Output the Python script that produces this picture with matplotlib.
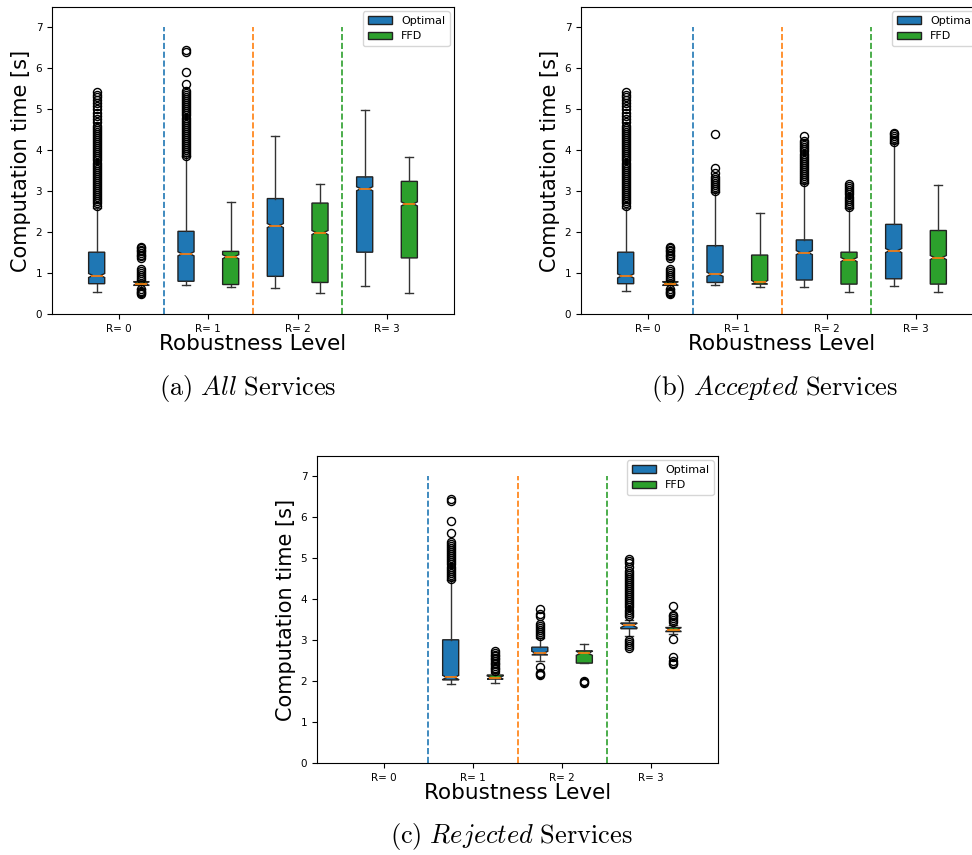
import matplotlib
matplotlib.use("Agg")
import matplotlib.pyplot as plt
from matplotlib.patches import Patch

plt.rcParams['mathtext.fontset'] = 'cm'

levels = ["R= 0", "R= 1", "R= 2", "R= 3"]
series_names = ["Optimal", "FFD"]
series_colors = ["#1f77b4", "#2ca02c"]
divider_colors = ["#1f77b4", "#ff7f0e", "#2ca02c"]
captions = [r"$\mathrm{(a)}\ \mathit{All}\ \mathrm{Services}$",
            r"$\mathrm{(b)}\ \mathit{Accepted}\ \mathrm{Services}$",
            r"$\mathrm{(c)}\ \mathit{Rejected}\ \mathrm{Services}$"]

# five-number summaries per robustness level: [whisker low, q1, median, q3, whisker high]
all_optimal = [[0.54, 0.74, 0.94, 1.51, 2.60],
               [0.72, 0.80, 1.47, 2.02, 3.85],
               [0.64, 0.92, 2.16, 2.82, 4.34],
               [0.68, 1.51, 3.06, 3.35, 4.98]]
all_ffd = [[0.62, 0.70, 0.74, 0.79, 0.83],
           [0.66, 0.72, 1.40, 1.53, 2.73],
           [0.52, 0.77, 1.99, 2.71, 3.17],
           [0.52, 1.37, 2.69, 3.24, 3.84]]
all_optimal_fliers = [
    [2.65, 2.7, 2.75, 2.8, 2.85, 2.9, 2.95, 3.0, 3.05, 3.1, 3.15, 3.2, 3.25, 3.3, 3.35,
     3.4, 3.45, 3.5, 3.55, 3.6, 3.65, 3.7, 3.75, 3.8, 3.85, 3.9, 3.95, 4.0, 4.05, 4.1,
     4.15, 4.2, 4.25, 4.3, 4.35, 4.4, 4.45, 4.5, 4.55, 4.6, 4.68, 4.76, 4.84, 4.92,
     5.0, 5.08, 5.15, 5.22, 5.3, 5.36, 5.42],
    [3.85, 3.9, 3.95, 4.0, 4.05, 4.1, 4.15, 4.2, 4.25, 4.3, 4.35, 4.4, 4.45, 4.5, 4.55,
     4.6, 4.65, 4.7, 4.75, 4.8, 4.85, 4.9, 4.95, 5.0, 5.05, 5.1, 5.15, 5.2, 5.25, 5.3,
     5.35, 5.4, 5.45, 5.62, 5.9, 6.4, 6.45],
    [], []]
all_ffd_fliers = [
    [0.48, 0.51, 0.54, 0.57, 0.6, 0.86, 0.9, 0.95, 1.0, 1.05, 1.1, 1.37, 1.41, 1.45,
     1.49, 1.53, 1.57, 1.61, 1.63],
    [], [], []]

acc_optimal = [[0.55, 0.74, 0.93, 1.51, 2.60],
               [0.72, 0.77, 0.97, 1.67, 2.97],
               [0.65, 0.83, 1.50, 1.81, 3.19],
               [0.68, 0.86, 1.55, 2.19, 4.17]]
acc_ffd = [[0.62, 0.70, 0.74, 0.79, 0.83],
           [0.67, 0.73, 0.77, 1.44, 2.46],
           [0.53, 0.73, 1.33, 1.51, 2.58],
           [0.53, 0.73, 1.38, 2.04, 3.14]]
acc_optimal_fliers = [
    [2.65, 2.7, 2.75, 2.8, 2.85, 2.9, 2.95, 3.0, 3.05, 3.1, 3.15, 3.2, 3.25, 3.3, 3.35,
     3.4, 3.45, 3.5, 3.55, 3.6, 3.65, 3.7, 3.75, 3.8, 3.85, 3.9, 3.95, 4.0, 4.05, 4.1,
     4.15, 4.2, 4.25, 4.3, 4.35, 4.4, 4.45, 4.5, 4.55, 4.6, 4.68, 4.76, 4.84, 4.92,
     5.0, 5.08, 5.15, 5.22, 5.3, 5.36, 5.42],
    [3.0, 3.05, 3.1, 3.15, 3.2, 3.25, 3.3, 3.35, 3.45, 3.57, 4.4],
    [3.22, 3.27, 3.32, 3.37, 3.42, 3.47, 3.52, 3.57, 3.62, 3.67, 3.72, 3.77, 3.82, 3.87,
     3.92, 3.97, 4.02, 4.07, 4.12, 4.17, 4.22, 4.34],
    [4.2, 4.25, 4.3, 4.35, 4.4, 4.43]]
acc_ffd_fliers = [
    [0.48, 0.51, 0.54, 0.57, 0.6, 0.86, 0.9, 0.95, 1.0, 1.05, 1.1, 1.37, 1.41, 1.45,
     1.49, 1.53, 1.57, 1.61, 1.63],
    [],
    [2.62, 2.67, 2.72, 2.77, 2.82, 2.87, 2.92, 2.97, 3.02, 3.07, 3.12, 3.17],
    []]

rej_optimal = [None,
               [1.93, 2.03, 2.09, 3.01, 4.48],
               [2.50, 2.64, 2.68, 2.83, 3.05],
               [3.11, 3.28, 3.36, 3.42, 3.50]]
rej_ffd = [None,
           [1.95, 2.05, 2.08, 2.15, 2.21],
           [2.44, 2.44, 2.68, 2.74, 2.90],
           [3.16, 3.21, 3.26, 3.31, 3.38]]
rej_optimal_fliers = [
    [],
    [4.5, 4.55, 4.6, 4.65, 4.7, 4.75, 4.8, 4.85, 4.9, 4.95, 5.0, 5.05, 5.1, 5.15, 5.2,
     5.25, 5.3, 5.35, 5.4, 5.62, 5.9, 6.4, 6.45],
    [2.15, 2.18, 2.2, 2.35, 3.1, 3.15, 3.2, 3.25, 3.3, 3.35, 3.4, 3.58, 3.65, 3.77],
    [2.82, 2.86, 2.9, 2.95, 3.0, 3.6, 3.65, 3.7, 3.75, 3.8, 3.85, 3.9, 3.95, 4.0, 4.05,
     4.1, 4.15, 4.2, 4.25, 4.3, 4.35, 4.4, 4.45, 4.5, 4.55, 4.6, 4.65, 4.7, 4.8, 4.88,
     4.93, 4.98]]
rej_ffd_fliers = [
    [],
    [2.25, 2.29, 2.33, 2.37, 2.41, 2.45, 2.49, 2.53, 2.57, 2.61, 2.65, 2.69, 2.73],
    [1.95, 1.97, 2.0],
    [2.42, 2.45, 2.5, 2.6, 3.03, 3.45, 3.5, 3.55, 3.6, 3.62, 3.84]]

panels = [(all_optimal, all_ffd, all_optimal_fliers, all_ffd_fliers),
          (acc_optimal, acc_ffd, acc_optimal_fliers, acc_ffd_fliers),
          (rej_optimal, rej_ffd, rej_optimal_fliers, rej_ffd_fliers)]

W, H = 972, 855
fig = plt.figure(figsize=(W / 100, H / 100), dpi=100)
axes_rects = [[52 / W, 1 - 314 / H, 402 / W, 307 / H],
              [581 / W, 1 - 314 / H, 402 / W, 307 / H],
              [317 / W, 1 - 763 / H, 401 / W, 307 / H]]
caption_pos = [(248 / W, 1 - 388 / H), (775 / W, 1 - 388 / H), (511 / W, 1 - 836 / H)]

BOX_W = 0.18
OFFSET = 0.25


def draw_panel(ax, opt, ffd, opt_fl, ffd_fl):
    for stats_list, fl_list, col, off in [(opt, opt_fl, series_colors[0], -OFFSET),
                                          (ffd, ffd_fl, series_colors[1], OFFSET)]:
        stats, pos = [], []
        for i, (s, f) in enumerate(zip(stats_list, fl_list)):
            if s is None:
                continue
            lo, q1, med, q3, hi = s
            d = 0.05
            stats.append(dict(whislo=lo, q1=q1, med=med, q3=q3, whishi=hi, fliers=f,
                              cilo=max(q1, med - d), cihi=min(q3, med + d)))
            pos.append(i + off)
        res = ax.bxp(stats, positions=pos, widths=BOX_W, patch_artist=True,
                     shownotches=True, manage_ticks=False,
                     boxprops=dict(facecolor=col, edgecolor='#222222', linewidth=1.0),
                     medianprops=dict(color='#ff7f0e', linewidth=1.2),
                     whiskerprops=dict(color='#333333', linewidth=1.0),
                     capprops=dict(color='#333333', linewidth=1.0),
                     flierprops=dict(marker='o', markerfacecolor='none',
                                     markeredgecolor='black', markersize=5.8,
                                     markeredgewidth=1.0))
        for line, p in zip(res['medians'], pos):
            line.set_xdata([p - BOX_W * 0.38, p + BOX_W * 0.38])
    for k, c in enumerate(divider_colors):
        ax.vlines(k + 0.5, 0, 7, colors=c, linestyles='--', linewidth=1.2)
    ax.set_xlim(-0.75, 3.75)
    ax.set_ylim(0, 7.5)
    ax.set_xticks(range(len(levels)))
    ax.set_xticklabels(levels, fontsize=7.5)
    ax.set_yticks(range(8))
    ax.tick_params(axis='y', labelsize=7.5)
    ax.set_xlabel("Robustness Level", fontsize=15.5, labelpad=0)
    ax.set_ylabel("Computation time [s]", fontsize=15, labelpad=3)
    handles = [Patch(facecolor=series_colors[0], edgecolor='#222222', label=series_names[0]),
               Patch(facecolor=series_colors[1], edgecolor='#222222', label=series_names[1])]
    ax.legend(handles=handles, loc='upper right', fontsize=8, handlelength=2.2,
              borderaxespad=0.4)


for rect, data, cap, cpos in zip(axes_rects, panels, captions, caption_pos):
    ax = fig.add_axes(rect)
    draw_panel(ax, *data)
    fig.text(cpos[0], cpos[1], cap, ha='center', va='center', fontsize=19)

fig.savefig("out.png", dpi=100)
